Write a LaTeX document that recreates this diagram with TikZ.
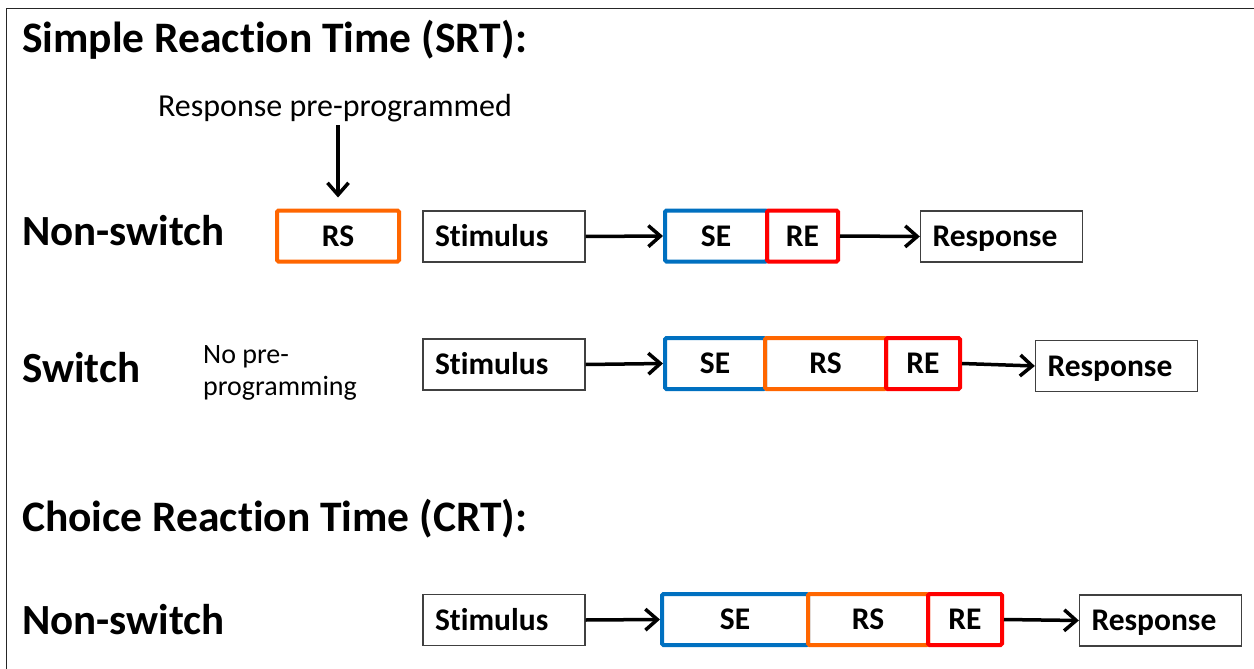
\documentclass[tikz,border=0pt]{standalone}
\usepackage{fontspec}
\setmainfont{Carlito}[Ligatures=NoCommon]
\usetikzlibrary{arrows.meta}
\definecolor{seblue}{RGB}{0,112,192}
\definecolor{rsorange}{RGB}{255,102,0}
\definecolor{rered}{RGB}{255,0,0}
\begin{document}
\begin{tikzpicture}[x=1pt,y=-1pt,
  every node/.style={inner sep=0pt},
  heading/.style={font=\fontsize{43.5}{50}\selectfont\bfseries, anchor=west},
  rowlabel/.style={font=\fontsize{43}{48}\selectfont\bfseries, anchor=west},
  note/.style={font=\fontsize{32}{38}\selectfont},
  smallnote/.style={font=\fontsize{28}{32}\selectfont, align=left, anchor=west},
  boxtext/.style={font=\fontsize{31.5}{36}\selectfont\bfseries,
    text height=23pt, text depth=3pt},
  plainbox/.style={boxtext, draw=black!75, line width=1.3pt, minimum height=51pt,
    text width=138pt, inner xsep=12pt, align=left},
  stage/.style={boxtext, line width=4pt, rounded corners=1.5pt, minimum height=51pt},
  sebox/.style={stage, draw=seblue},
  rsbox/.style={stage, draw=rsorange},
  rebox/.style={stage, draw=rered},
  arr/.style={line width=3.5pt, -{Straight Barb[length=12pt,width=21pt]}}
]
\clip (0,0) rectangle (1254,669);
\useasboundingbox (0,0) rectangle (1254,669);
\fill[white] (0,0) rectangle (1254,669);

% outer frame
\draw[line width=1.5pt, black!85] (6.5,8.5) rectangle (1300,720);

% ---- Simple reaction time ----
\node[heading] (srt) at (22,40) {Simple Reaction Time (SRT):};
\node[note] (rpp) at (335,108) {Response pre-programmed};

% non-switch row
\node[rowlabel] (ns1) at (22,231) {Non-switch};
\node[rsbox, minimum width=122pt] (rs1) at (338,236) {RS};
\node[plainbox] (stim1) at (504,236.5) {Stimulus};
\node[sebox, minimum width=102pt] (se1) at (716,236) {SE};
\node[rebox, minimum width=71pt] (re1) at (802.5,236) {RE};
\node[plainbox] (resp1) at (1001.5,236.5) {Response};

\draw[arr, shorten <=3pt, shorten >=11pt] (rs1.north |- rpp.south) -- (rs1.north);
\draw[arr] (stim1.east) -- (se1.west);
\draw[arr] (re1.east) -- (resp1.west);

% switch row
\node[rowlabel] (sw) at (22,368) {Switch};
\node[smallnote] (nopre) at (203,373) {No pre-\\programming};
\node[plainbox] (stim2) at (504,364.5) {Stimulus};
\node[sebox, minimum width=100pt] (se2) at (715,363.5) {SE};
\node[rsbox, minimum width=121pt] (rs2) at (825.5,363.5) {RS};
\node[rebox, minimum width=74pt] (re2) at (923,363.5) {RE};
\node[plainbox] (resp2) at (1116.5,366) {Response};

\draw[arr] (stim2.east) -- (se2.west);
\draw[arr] (re2.east) -- (resp2.west);

% ---- Choice reaction time ----
\node[heading] (crt) at (22,519) {Choice Reaction Time (CRT):};

% non-switch row
\node[rowlabel] (ns2) at (22,620) {Non-switch};
\node[plainbox] (stim3) at (504,620) {Stimulus};
\node[sebox, minimum width=146pt] (se3) at (735,619.5) {SE};
\node[rsbox, minimum width=120pt] (rs3) at (868,619.5) {RS};
\node[rebox, minimum width=74pt] (re3) at (965,619.5) {RE};
\node[plainbox] (resp3) at (1160.5,620.5) {Response};

\draw[arr] (stim3.east) -- (se3.west);
\draw[arr] (re3.east) -- (resp3.west);
\end{tikzpicture}
\end{document}
